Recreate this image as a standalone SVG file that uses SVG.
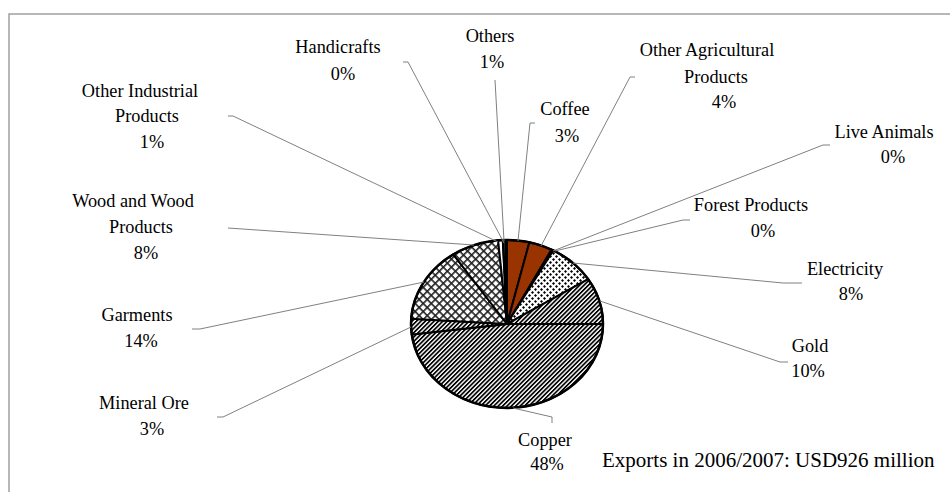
<svg xmlns="http://www.w3.org/2000/svg" width="950" height="492" viewBox="0 0 950 492">
  <style>
    .lbl { font-family: "Liberation Serif", "Times New Roman", serif; font-size: 18.3px; fill: #000; text-anchor: middle; }
    .note { font-family: "Liberation Serif", "Times New Roman", serif; font-size: 21px; fill: #000; }
    .lead { fill: none; stroke: #808080; stroke-width: 1; }
    .slice { stroke: #000; stroke-width: 2; stroke-linejoin: round; }
  </style>
  <defs>
    <pattern id="stripes" patternUnits="userSpaceOnUse" width="3.1" height="3.1" patternTransform="rotate(45)">
      <rect width="3.1" height="3.1" fill="#fff"/>
      <rect width="1.7" height="3.1" fill="#000"/>
    </pattern>
    <pattern id="cross" patternUnits="userSpaceOnUse" width="5.7" height="5.7" patternTransform="rotate(45)">
      <rect width="5.7" height="5.7" fill="#fff"/>
      <rect width="1.6" height="5.7" fill="#202020"/>
      <rect width="5.7" height="1.6" fill="#202020"/>
    </pattern>
    <pattern id="dots" patternUnits="userSpaceOnUse" width="6" height="6">
      <rect width="6" height="6" fill="#fff"/>
      <polygon points="1.5,0 3,1.5 1.5,3 0,1.5" fill="#000"/>
      <polygon points="4.5,3 6,4.5 4.5,6 3,4.5" fill="#000"/>
    </pattern>
  </defs>

  <rect width="950" height="492" fill="#fff"/>
  <!-- chart area frame -->
  <path d="M9,492 V14 H950" fill="none" stroke="#a0a0a0" stroke-width="1.5"/>

  <!-- pie slices, clockwise from 12 o'clock; centre (507,324), radii 96 x 84 -->
  <g id="pie">
    <g id="slice-coffee"><path class="slice" fill="#993300" d="M507,324 L507,240 A96,84 0 0 1 529.4,242.3 Z"/></g>
    <g id="slice-other-agricultural"><path class="slice" fill="#993300" d="M507,324 L529.4,242.3 A96,84 0 0 1 551.6,249.6 Z"/></g>
    <g id="slice-live-animals"><path class="slice" fill="#fff" d="M507,324 L551.6,249.6 A96,84 0 0 1 552.5,250.0 Z"/></g>
    <g id="slice-forest-products"><path class="slice" fill="#fff" d="M507,324 L552.5,250.0 A96,84 0 0 1 553.3,250.4 Z"/></g>
    <g id="slice-electricity"><path class="slice" fill="url(#dots)" d="M507,324 L553.3,250.4 A96,84 0 0 1 588.2,279.2 Z"/></g>
    <g id="slice-gold"><path class="slice" fill="url(#stripes)" d="M507,324 L588.2,279.2 A96,84 0 0 1 603,324 Z"/></g>
    <g id="slice-copper"><path class="slice" fill="url(#stripes)" d="M507,324 L603,324 A96,84 0 0 1 411.8,334.5 Z"/></g>
    <g id="slice-mineral-ore"><path class="slice" fill="url(#stripes)" d="M507,324 L411.8,334.5 A96,84 0 0 1 411.2,318.7 Z"/></g>
    <g id="slice-garments"><path class="slice" fill="url(#cross)" d="M507,324 L411.2,318.7 A96,84 0 0 1 453.3,254.4 Z"/></g>
    <g id="slice-wood"><path class="slice" fill="url(#cross)" d="M507,324 L453.3,254.4 A96,84 0 0 1 498.1,240.4 Z"/></g>
    <g id="slice-other-industrial"><path class="slice" fill="#fff" d="M507,324 L498.1,240.4 A96,84 0 0 1 502.8,240.1 Z"/></g>
    <g id="slice-handicrafts"><path class="slice" fill="#fff" d="M507,324 L502.8,240.1 A96,84 0 0 1 505.3,240.0 Z"/></g>
    <g id="slice-others"><path class="slice" fill="#fff" d="M507,324 L505.3,240.0 A96,84 0 0 1 507,240 Z"/></g>
    <ellipse cx="507" cy="324" rx="96" ry="84" fill="none" stroke="#000" stroke-width="2.5"/>
  </g>

  <!-- leader lines -->
  <g id="connectors">
    <path class="lead" d="M403,62 H408 L504,243"/>
    <path class="lead" d="M228,116 H233 L498,242"/>
    <path class="lead" d="M495,80 L504,241"/>
    <path class="lead" d="M535,123 H530 L518,241"/>
    <path class="lead" d="M635,77 H630 L541,246"/>
    <path class="lead" d="M830,145 H823 L553,251"/>
    <path class="lead" d="M690,220 H683 L555,251"/>
    <path class="lead" d="M802,283 H783 L573,263"/>
    <path class="lead" d="M788,362 H780 L600,301"/>
    <path class="lead" d="M552,423 V417 L513,408"/>
    <path class="lead" d="M217,417 H223 L411,327"/>
    <path class="lead" d="M192,329 H200 L424,282"/>
    <path class="lead" d="M228,228 L474,245"/>
  </g>

  <!-- data labels -->
  <g id="label-handicrafts"><text class="lbl" x="338" y="53">Handicrafts</text><text class="lbl" x="343" y="80">0%</text></g>
  <g id="label-others"><text class="lbl" x="490" y="42">Others</text><text class="lbl" x="492" y="68">1%</text></g>
  <g id="label-other-agricultural"><text class="lbl" x="707" y="56">Other Agricultural</text><text class="lbl" x="716" y="83">Products</text><text class="lbl" x="724" y="108">4%</text></g>
  <g id="label-coffee"><text class="lbl" x="565" y="115">Coffee</text><text class="lbl" x="567" y="142">3%</text></g>
  <g id="label-other-industrial"><text class="lbl" x="140" y="97">Other Industrial</text><text class="lbl" x="147" y="122">Products</text><text class="lbl" x="152" y="148">1%</text></g>
  <g id="label-live-animals"><text class="lbl" x="884" y="138">Live Animals</text><text class="lbl" x="893" y="163">0%</text></g>
  <g id="label-forest-products"><text class="lbl" x="751" y="211">Forest Products</text><text class="lbl" x="763" y="237">0%</text></g>
  <g id="label-wood"><text class="lbl" x="133" y="207">Wood and Wood</text><text class="lbl" x="141" y="233">Products</text><text class="lbl" x="146" y="259">8%</text></g>
  <g id="label-electricity"><text class="lbl" x="845" y="275">Electricity</text><text class="lbl" x="851" y="300">8%</text></g>
  <g id="label-garments"><text class="lbl" x="137" y="321">Garments</text><text class="lbl" x="141" y="347">14%</text></g>
  <g id="label-gold"><text class="lbl" x="810" y="352">Gold</text><text class="lbl" x="808" y="377">10%</text></g>
  <g id="label-mineral-ore"><text class="lbl" x="144" y="409">Mineral Ore</text><text class="lbl" x="152" y="435">3%</text></g>
  <g id="label-copper"><text class="lbl" x="545" y="446">Copper</text><text class="lbl" x="547" y="470">48%</text></g>

  <text class="note" x="602" y="467">Exports in 2006/2007: USD926 million</text>
</svg>
